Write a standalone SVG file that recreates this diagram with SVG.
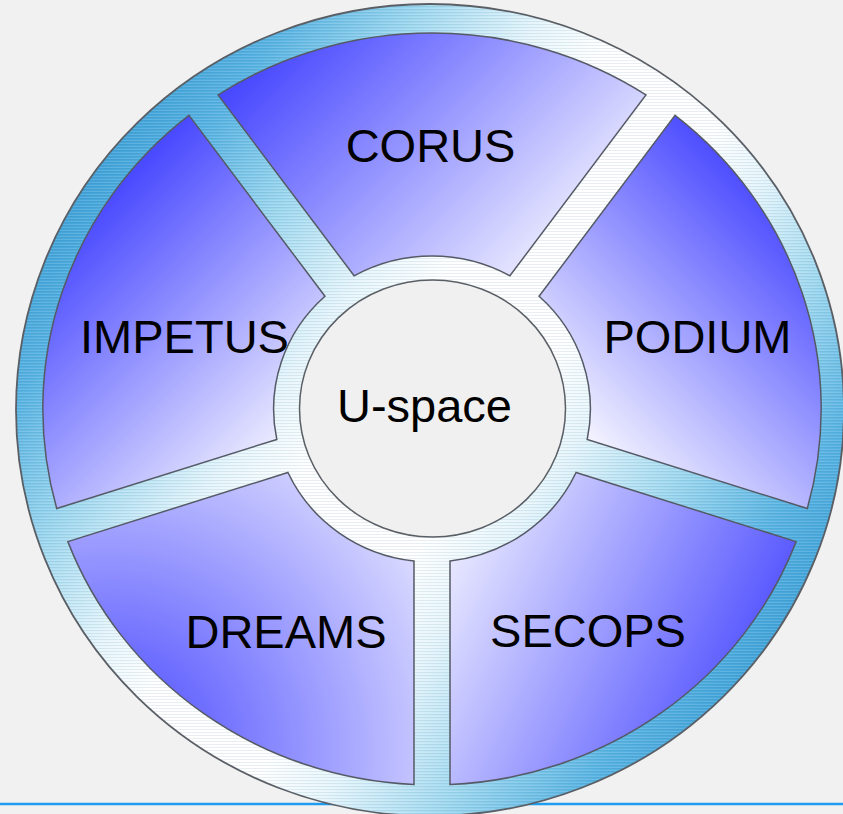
<svg xmlns="http://www.w3.org/2000/svg" width="843" height="814" viewBox="0 0 843 814">
  <defs>
    <linearGradient id="wheelGrad" gradientUnits="userSpaceOnUse" x1="81" y1="162" x2="783" y2="658">
      <stop offset="0" stop-color="#3d9fd6"/>
      <stop offset="0.1" stop-color="#58b3e2"/>
      <stop offset="0.22" stop-color="#9fd8ef"/>
      <stop offset="0.34" stop-color="#e6f5fb"/>
      <stop offset="0.42" stop-color="#ffffff"/>
      <stop offset="0.58" stop-color="#ffffff"/>
      <stop offset="0.66" stop-color="#e6f5fb"/>
      <stop offset="0.78" stop-color="#9fd8ef"/>
      <stop offset="0.9" stop-color="#58b3e2"/>
      <stop offset="1" stop-color="#3d9fd6"/>
    </linearGradient>
    <pattern id="stripes" patternUnits="userSpaceOnUse" width="12" height="3">
      <rect x="0" y="0" width="12" height="1" fill="#1a5f8a" fill-opacity="0.10"/>
      <rect x="0" y="2" width="12" height="1" fill="#ffffff" fill-opacity="0.12"/>
    </pattern>
    <linearGradient id="gCorus" gradientUnits="userSpaceOnUse" x1="230" y1="90" x2="485" y2="345">
      <stop offset="0" stop-color="#4848ff"/>
      <stop offset="1" stop-color="#f3f3ff"/>
    </linearGradient>
    <linearGradient id="gImpetus" gradientUnits="userSpaceOnUse" x1="150" y1="150" x2="370" y2="370">
      <stop offset="0" stop-color="#4848ff"/>
      <stop offset="1" stop-color="#f3f3ff"/>
    </linearGradient>
    <linearGradient id="gPodium" gradientUnits="userSpaceOnUse" x1="720" y1="140" x2="505" y2="355">
      <stop offset="0" stop-color="#4848ff"/>
      <stop offset="1" stop-color="#f3f3ff"/>
    </linearGradient>
    <linearGradient id="gSecops" gradientUnits="userSpaceOnUse" x1="790" y1="650" x2="460" y2="485">
      <stop offset="0" stop-color="#4848ff"/>
      <stop offset="1" stop-color="#f3f3ff"/>
    </linearGradient>
    <radialGradient id="gDreams" gradientUnits="userSpaceOnUse" cx="110" cy="750" r="420">
      <stop offset="0" stop-color="#4848ff"/>
      <stop offset="0.25" stop-color="#7070ff"/>
      <stop offset="1" stop-color="#f3f3ff"/>
    </radialGradient>
    <style>
      .seg { stroke: #555a66; stroke-width: 1.5; stroke-linejoin: miter; }
      .lbl { font-family: "Liberation Sans", Arial, Helvetica, sans-serif; font-size: 47px; fill: #000000; text-anchor: middle; }
      .rim { stroke: #5a5f66; stroke-width: 1.8; }
    </style>
  </defs>

  <rect x="0" y="0" width="843" height="814" fill="#f1f1f1"/>
  <line x1="0" y1="804" x2="843" y2="804" stroke="#1e9cf0" stroke-width="2.5"/>

  <g id="wheel">
    <ellipse cx="430" cy="410" rx="414" ry="406" fill="url(#wheelGrad)"/>
    <ellipse cx="430" cy="410" rx="414" ry="406" fill="url(#stripes)" class="rim"/>
  </g>

  <g id="connectors"/>

  <g id="corus">
    <path class="seg" fill="url(#gCorus)" d="M354.10,275.79 L218.08,94.90 A389.2,376 0 0 1 645.92,94.90 L509.90,275.79 A158.4,153 0 0 0 354.10,275.79 Z"/>
    <text class="lbl" x="430.5" y="162">CORUS</text>
  </g>

  <g id="podium">
    <path class="seg" fill="url(#gPodium)" d="M539.05,296.25 L675.07,115.36 A389.2,376 0 0 1 807.29,508.52 L587.20,439.42 A158.4,153 0 0 0 539.05,296.25 Z"/>
    <text class="lbl" x="697.5" y="353">PODIUM</text>
  </g>

  <g id="secops">
    <path class="seg" fill="url(#gSecops)" d="M576.06,472.52 L796.15,541.62 A389.2,376 0 0 1 450.01,784.6 L450.01,561.01 A158.4,153 0 0 0 576.06,472.52 Z"/>
    <text class="lbl" x="588" y="647">SECOPS</text>
  </g>

  <g id="dreams">
    <path class="seg" fill="url(#gDreams)" d="M413.99,561.01 L413.99,784.6 A389.2,376 0 0 1 67.85,541.62 L287.94,472.52 A158.4,153 0 0 0 413.99,561.01 Z"/>
    <text class="lbl" x="286" y="648">DREAMS</text>
  </g>

  <g id="impetus">
    <path class="seg" fill="url(#gImpetus)" d="M276.80,439.42 L56.71,508.52 A389.2,376 0 0 1 188.93,115.36 L324.95,296.25 A158.4,153 0 0 0 276.80,439.42 Z"/>
    <text class="lbl" x="184.5" y="353">IMPETUS</text>
  </g>

  <g id="uspace">
    <ellipse cx="432.5" cy="408.5" rx="133" ry="128.5" fill="#f0f0f0" stroke="#5a5f66" stroke-width="1.5"/>
    <text class="lbl" x="424.5" y="422">U-space</text>
  </g>
</svg>
